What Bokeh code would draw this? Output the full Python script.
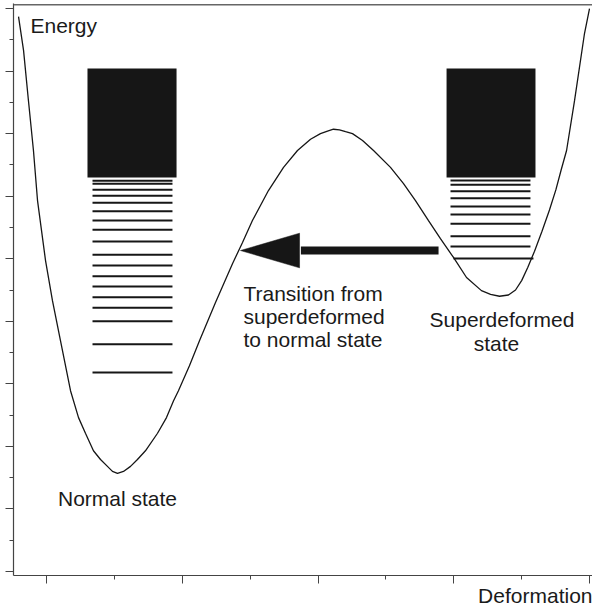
from bokeh.plotting import figure
from bokeh.models import FixedTicker, Title, Range1d, Span
from bokeh.core.properties import value
from bokeh.embed import file_html
from bokeh.resources import INLINE

# ---- potential energy curve (deformation, energy) ----
curve_x = [-0.206, -0.169, -0.133, -0.096, -0.066, -0.007, 0.044, 0.103, 0.177, 0.236,
           0.287, 0.346, 0.398, 0.449, 0.486, 0.523, 0.567, 0.619, 0.670, 0.729,
           0.818, 0.884, 0.936, 0.972, 1.053, 1.127, 1.245, 1.370, 1.444, 1.517,
           1.635, 1.746, 1.849, 1.945, 2.018, 2.070, 2.114, 2.158, 2.203, 2.254,
           2.328, 2.409, 2.534, 2.630, 2.718, 2.814, 2.902, 2.998, 3.094, 3.204,
           3.271, 3.337, 3.403, 3.455, 3.500, 3.545, 3.595, 3.650, 3.705, 3.752,
           3.790, 3.831, 3.890, 3.963, 4.000]
curve_y = [8.87, 8.33, 7.53, 6.73, 5.93, 4.97, 4.33, 3.69, 2.89, 2.46,
           2.21, 1.93, 1.79, 1.68, 1.60, 1.567, 1.60, 1.68, 1.79, 1.93,
           2.21, 2.46, 2.73, 2.89, 3.29, 3.69, 4.30, 4.92, 5.26, 5.61,
           6.09, 6.46, 6.73, 6.91, 7.00, 7.04, 7.07, 7.06, 7.03, 7.00,
           6.89, 6.73, 6.46, 6.20, 5.93, 5.61, 5.32, 5.02, 4.70, 4.49,
           4.43, 4.40, 4.42, 4.50, 4.65, 4.86, 5.12, 5.44, 5.78, 6.10,
           6.41, 6.73, 7.53, 8.60, 9.00]

# ---- energy levels ----
normal_levels = [6.245, 6.197, 6.101, 6.005, 5.893, 5.759, 5.611, 5.462, 5.275,
                 5.062, 4.891, 4.720, 4.556, 4.385, 4.215, 4.001, 3.633, 3.181]
normal_x0 = [0.339] * len(normal_levels)
normal_x1 = [0.928] * len(normal_levels)

sd_levels = [6.250, 6.181, 6.079, 5.967, 5.834, 5.707, 5.558, 5.360, 5.195, 5.003]
sd_x0 = [2.976, 2.976, 2.976, 2.976, 2.976, 2.976, 2.976, 2.976, 2.976, 2.998]
sd_x1 = [3.565, 3.565, 3.565, 3.565, 3.565, 3.565, 3.565, 3.565, 3.565, 3.587]

# ---- continuum blocks ----
block_left = [0.302, 2.947]
block_right = [0.958, 3.602]
block_bottom = [6.298, 6.298]
block_top = [8.040, 8.040]

# ---- transition arrow ----
arrow_tail_x, arrow_tip_x, arrow_y = 2.888, 1.429, 5.131

# ---- texts ----
left_texts = ["Energy", "Transition from", "superdeformed", "to normal state"]
left_x = [-0.118, 1.451, 1.451, 1.451]
left_y = [8.731, 4.441, 4.071, 3.701]
center_texts = ["Superdeformed", "state", "Normal state"]
center_x = [3.355, 3.315, 0.523]
center_y = [4.036, 3.637, 1.159]
x_title = "Deformation"

# ---- axes ticks ----
y_major = [0, 1, 2, 3, 4, 5, 6, 7, 8, 9]
y_minor = [0.5, 1.5, 2.5, 3.5, 4.5, 5.5, 6.5, 7.5, 8.5]
x_major = [0, 1, 2, 3, 4]
x_minor = [0.5, 1.5, 2.5, 3.5]
y_top = 9.08

INK = "#161616"
AXIS = "#444444"
FONT = "Liberation Sans"
FS = "21px"

p = figure(width=592, height=610, output_backend="svg", toolbar_location=None,
           x_range=Range1d(-0.243, 4.022), y_range=Range1d(-0.064, y_top),
           min_border_left=13, min_border_right=0, min_border_top=3,
           min_border_bottom=35)
p.grid.visible = False
p.outline_line_color = None
p.background_fill_color = "white"

for ax, maj, mnr in [(p.xaxis[0], x_major, x_minor), (p.yaxis[0], y_major, y_minor)]:
    ax.ticker = FixedTicker(ticks=maj, minor_ticks=mnr)
    ax.major_label_text_font_size = "1px"
    ax.major_label_text_color = None
    ax.major_label_standoff = 0
    ax.major_tick_in = 0
    ax.major_tick_out = 8
    ax.minor_tick_in = 0
    ax.minor_tick_out = 4
    ax.axis_line_color = AXIS
    ax.major_tick_line_color = AXIS
    ax.minor_tick_line_color = AXIS
    ax.axis_line_width = 1.2

# top frame line
p.add_layout(Span(location=y_top - 0.02, dimension="width", line_color="#666666",
                  line_width=1.5, level="overlay"))

p.line(curve_x, curve_y, line_color=INK, line_width=1.3)

p.segment(x0=normal_x0, y0=normal_levels, x1=normal_x1, y1=normal_levels,
          line_color=INK, line_width=2)
p.segment(x0=sd_x0, y0=sd_levels, x1=sd_x1, y1=sd_levels,
          line_color=INK, line_width=2)

p.quad(left=block_left, right=block_right, bottom=block_bottom, top=block_top,
       fill_color=INK, line_color=None)

HEAD_LEN = 0.435
HEAD_HALF = 0.277
head_base = arrow_tip_x + HEAD_LEN
p.segment(x0=[arrow_tail_x], y0=[arrow_y], x1=[head_base + 0.01], y1=[arrow_y],
          line_color=INK, line_width=8, line_cap="butt")
p.patch(x=[arrow_tip_x, head_base, head_base], y=[arrow_y, arrow_y + HEAD_HALF, arrow_y - HEAD_HALF],
        fill_color=INK, line_color=INK, line_width=0.5)

p.text(x=left_x, y=left_y, text=left_texts, text_font=value(FONT), text_font_size=value(FS),
       text_align="left", text_baseline="alphabetic", text_color="#1a1a1a")
p.text(x=center_x, y=center_y, text=center_texts, text_font=value(FONT), text_font_size=value(FS),
       text_align="center", text_baseline="alphabetic", text_color="#1a1a1a")

p.add_layout(Title(text=x_title, align="right", vertical_align="top", text_font=FONT,
                   text_font_size=FS, text_font_style="normal", text_color="#1a1a1a",
                   standoff=0), "below")

open("out.html", "w").write(file_html(p, INLINE))
